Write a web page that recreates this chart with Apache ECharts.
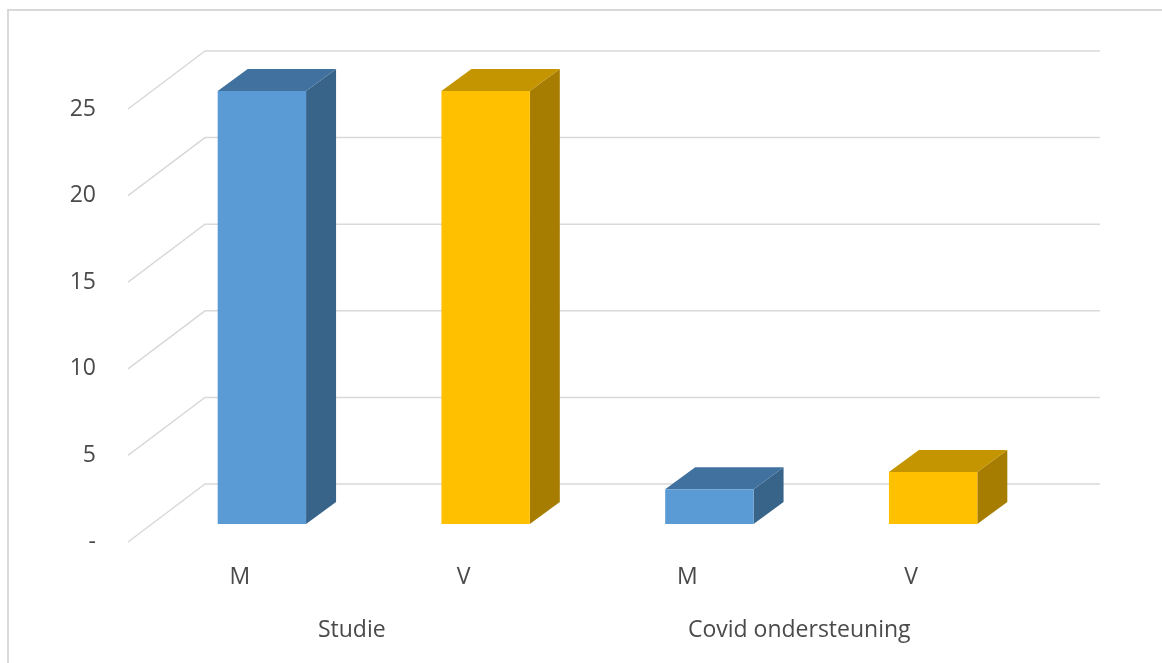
<!DOCTYPE html>
<html>
<head>
<meta charset="utf-8">
<script src="https://cdn.jsdelivr.net/npm/echarts@6/dist/echarts.min.js"></script>
<style>
html,body{margin:0;padding:0;background:#fff;}
#chart{width:1162px;height:663px;}
</style>
</head>
<body>
<div id="chart"></div>
<script>
// ---- data ----
var subCategories = ['M', 'V', 'M', 'V'];
var groupLabels = ['Studie', 'Covid ondersteuning'];
var values = [25, 25, 2, 3];
var yTicks = [0, 5, 10, 15, 20, 25];

// ---- styling ----
var frontColors = ['#5B9BD5', '#FFC000'];
var topColors = ['#41729F', '#C49500'];
var sideColors = ['#386489', '#A67D00'];
var FONT = '"Open Sans", "Noto Sans", sans-serif';
var TXT = '#4a4a4a';
var DIAG = [77, -58];      // floor depth (front -> back wall)
var BAR_OFF = [22, -18];   // bar front plane offset from front edge
var BAR_DEPTH = [30, -22]; // bar depth

var chart = echarts.init(document.getElementById('chart'));

var option = {
  animation: false,
  grid: { left: 128, right: 139, top: 109, bottom: 121 },
  xAxis: [
    {
      type: 'category', data: subCategories, position: 'bottom',
      axisLine: { show: false }, axisTick: { show: false },
      axisLabel: { color: TXT, fontSize: 23, fontFamily: FONT, margin: 24 }
    },
    {
      type: 'category', data: groupLabels, position: 'bottom', offset: 53,
      axisLine: { show: false }, axisTick: { show: false },
      axisLabel: { color: TXT, fontSize: 23, fontFamily: FONT, margin: 24 }
    }
  ],
  yAxis: {
    type: 'value', min: 0, max: 25, interval: 5,
    axisLine: { show: false }, axisTick: { show: false }, splitLine: { show: false },
    axisLabel: {
      color: TXT, fontSize: 23, fontFamily: FONT, margin: 32, padding: [6, 0, 0, 0],
      formatter: function (v) { return v === 0 ? '-' : String(v); }
    }
  },
  graphic: [{
    type: 'rect', shape: { x: 8, y: 10, width: 1200, height: 700 },
    style: { fill: 'none', stroke: '#D9D9D9', lineWidth: 2 }, z: -10
  }],
  series: [
    {
      type: 'custom', name: 'grid', xAxisIndex: 0,
      data: yTicks.map(function (t) { return [0, t]; }),
      encode: { x: 0, y: 1 },
      silent: true, z: 1,
      renderItem: function (params, api) {
        var cs = params.coordSys;
        var y = api.coord([0, api.value(1)])[1];
        var x0 = cs.x;
        return {
          type: 'polyline',
          shape: { points: [[x0, y], [x0 + DIAG[0], y + DIAG[1]], [cs.x + cs.width + DIAG[0], y + DIAG[1]]] },
          style: { stroke: '#D9D9D9', lineWidth: 1.5, fill: null }
        };
      }
    },
    {
      type: 'custom', name: 'bars', xAxisIndex: 0,
      data: values.map(function (v, i) { return [i, v]; }),
      encode: { x: 0, y: 1 },
      z: 5,
      renderItem: function (params, api) {
        var i = api.value(0);
        var ci = i % 2;
        var top = api.coord([i, api.value(1)]);
        var bot = api.coord([i, 0]);
        var w = api.size([1, 0])[0] * 0.395;
        var cx = top[0] + BAR_OFF[0];
        var x0 = cx - w / 2, x1 = cx + w / 2;
        var yt = top[1] + BAR_OFF[1], yb = bot[1] + BAR_OFF[1];
        var dx = BAR_DEPTH[0], dy = BAR_DEPTH[1];
        return {
          type: 'group',
          children: [
            { type: 'polygon', shape: { points: [[x1, yt], [x1 + dx, yt + dy], [x1 + dx, yb + dy], [x1, yb]] },
              style: { fill: sideColors[ci] } },
            { type: 'polygon', shape: { points: [[x0, yt], [x1, yt], [x1 + dx, yt + dy], [x0 + dx, yt + dy]] },
              style: { fill: topColors[ci] } },
            { type: 'rect', shape: { x: x0, y: yt, width: w, height: yb - yt },
              style: { fill: frontColors[ci] } }
          ]
        };
      }
    }
  ]
};
chart.setOption(option);
</script>
</body>
</html>
